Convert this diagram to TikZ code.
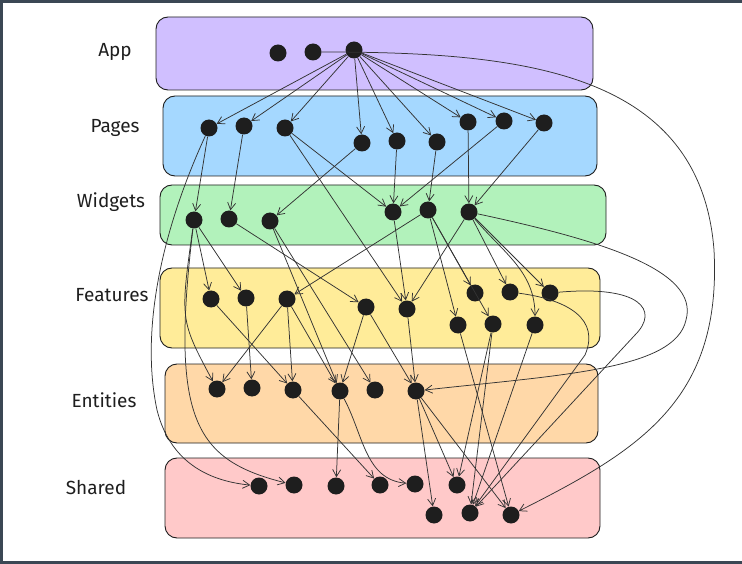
\documentclass[tikz,border=0pt]{standalone}
\usepackage{fontspec}
\setmainfont{Fira Sans}
\usepackage{tikz}
\usetikzlibrary{arrows.meta}

\definecolor{ink}{HTML}{1E1E1E}
\definecolor{wire}{HTML}{333333}
\definecolor{framecol}{HTML}{3B4754}
\definecolor{appcol}{HTML}{D0BFFF}
\definecolor{pagecol}{HTML}{A5D8FF}
\definecolor{widgcol}{HTML}{B2F2BB}
\definecolor{featcol}{HTML}{FFEC99}
\definecolor{entcol}{HTML}{FFD8A8}
\definecolor{shcol}{HTML}{FFC9C9}

\tikzset{
	layerbox/.style={draw=ink, line width=0.9pt, rounded corners=12pt},
	conn/.style={draw=wire, line width=0.75pt}
}

\begin{document}
\begin{tikzpicture}[x=1pt,y=-1pt]
\useasboundingbox (0,0) rectangle (742,564);
\draw[framecol, line width=3pt] (742,1.5) -- (1.5,1.5) -- (1.5,562.5) -- (742,562.5);

% layers
\draw[layerbox, fill=appcol] (156,17) rectangle (593,90);
\draw[layerbox, fill=pagecol] (163,96) rectangle (597,176);
\draw[layerbox, fill=widgcol] (160,185) rectangle (606,245);
\draw[layerbox, fill=featcol] (160,268) rectangle (600,348);
\draw[layerbox, fill=entcol] (165,364) rectangle (598,443);
\draw[layerbox, fill=shcol] (165,458) rectangle (600,538);

\begin{scope}[every node/.style={text=ink, font=\fontsize{19}{22}\selectfont}]
	\node (LApp) at (115,52) {App};
	\node (LPages) at (115,128) {Pages};
	\node (LWidgets) at (111,202) {Widgets};
	\node (LFeatures) at (112,295) {Features};
	\node (LEntities) at (104,400) {Entities};
	\node (LShared) at (96,487) {Shared};
\end{scope}

\begin{scope}[every node/.style={circle, fill=ink, minimum size=17pt, inner sep=0pt}]
	\node (A1) at (278,53) {};
	\node (A2) at (313,52) {};
	\node (A3) at (354,50) {};
	\node (P1) at (209,128) {};
	\node (P2) at (244,126) {};
	\node (P3) at (285,128) {};
	\node (P4) at (362,143) {};
	\node (P5) at (397,141) {};
	\node (P6) at (437,142) {};
	\node (P7) at (468,122) {};
	\node (P8) at (504,121) {};
	\node (P9) at (544,123) {};
	\node (W1) at (194,220) {};
	\node (W2) at (229,219) {};
	\node (W3) at (270,221) {};
	\node (W4) at (393,212) {};
	\node (W5) at (428,210) {};
	\node (W6) at (469,212) {};
	\node (F1) at (211,299) {};
	\node (F2) at (246,298) {};
	\node (F3) at (287,299) {};
	\node (F4) at (366,307) {};
	\node (F5) at (407,309) {};
	\node (F6) at (475,293) {};
	\node (F7) at (510,292) {};
	\node (F8) at (550,293) {};
	\node (F9) at (458,325) {};
	\node (F10) at (493,324) {};
	\node (F11) at (535,325) {};
	\node (E1) at (217,389) {};
	\node (E2) at (252,388) {};
	\node (E3) at (293,390) {};
	\node (E4) at (340,391) {};
	\node (E5) at (375,390) {};
	\node (E6) at (416,391) {};
	\node (S1) at (259,486) {};
	\node (S2) at (294,485) {};
	\node (S3) at (336,486) {};
	\node (S4) at (380,485) {};
	\node (S5) at (415,484) {};
	\node (S6) at (457,485) {};
	\node (S7) at (434,515) {};
	\node (S8) at (470,513) {};
	\node (S9) at (511,515) {};
\end{scope}

\begin{scope}[>={Straight Barb[length=7pt,width=8pt]},
		every edge/.style={conn}]
	% app -> pages
	\path [->] (A3) edge (P1);
	\path [->] (A3) edge (P2);
	\path [->] (A3) edge (P3);
	\path [->] (A3) edge (P4);
	\path [->] (A3) edge (P5);
	\path [->] (A3) edge (P6);
	\path [->] (A3) edge (P7);
	\path [->] (A3) edge (P8);
	\path [->] (A3) edge (P9);
	% pages
	\path [->] (P1) edge (W1);
	\path [->] (P2) edge (W2);
	\path [->] (P3) edge (W4);
	\path [->] (P3) edge (F5);
	\path [->] (P4) edge (W3);
	\path [->] (P5) edge (W4);
	\path [->] (P6) edge (W5);
	\path [->] (P7) edge (W6);
	\path [->] (P8) edge (W4);
	\path [->] (P9) edge (W6);
	% widgets
	\path [->] (W1) edge (F1);
	\path [->] (W1) edge (F2);
	\path [->] (W2) edge (F4);
	\path [->] (W3) edge (E4);
	\path [->] (W3) edge (E5);
	\path [->] (W4) edge (F5);
	\path [->] (W5) edge (F3);
	\path [->] (W5) edge (F6);
	\path [->] (W5) edge (F9);
	\path [->] (W5) edge (F10);
	\path [->] (W6) edge (F5);
	\path [->] (W6) edge (F7);
	\path [->] (W6) edge (F8);
	\path [->] (W6) edge[out=-50, in=90] (F11);
	% features
	\path [->] (F1) edge (E3);
	\path [->] (F2) edge (E2);
	\path [->] (F3) edge (E1);
	\path [->] (F3) edge (E3);
	\path [->] (F3) edge (E4);
	\path [->] (F4) edge (E4);
	\path [->] (F4) edge (E6);
	\path [->] (F5) edge (E6);
	\path [->] (F9) edge (S9);
	\path [->] (F10) edge (S6);
	\path [->] (F10) edge (S8);
	\path [->] (F11) edge (S8);
	% entities
	\path [->] (E3) edge (S4);
	\path [->] (E4) edge (S3);
	\path [->] (E4) edge[out=-62, in=175] (S5);
	\path [->] (E6) edge (S6);
	\path [->] (E6) edge (S7);
	\path [->] (E6) edge (S9);
\end{scope}

% long detours
\begin{scope}[>={Straight Barb[length=7pt,width=8pt]}]
	\draw[conn, ->] (A2) .. controls (520,52) and (700,70) .. (714,250) .. controls (722,400) and (640,450) .. (S9);
	\draw[conn, ->] (P1) .. controls (162,230) and (140,330) .. (157,410) .. controls (172,470) and (220,482) .. (S1);
	\draw[conn, ->] (W1) .. controls (170,420) and (195,460) .. (S2);
	\draw[conn, ->] (W1) .. controls (180,320) .. (E1);
	\draw[conn, ->] (W6) .. controls (600,240) and (700,270) .. (686,320) .. controls (675,370) and (560,375) .. (E6);
	\draw[conn, ->] (F8) .. controls (640,285) and (660,310) .. (635,335) -- (S8);
	\draw[conn, ->] (F7) .. controls (570,300) and (600,320) .. (585,355) -- (S8);
\end{scope}
\end{tikzpicture}
\end{document}
